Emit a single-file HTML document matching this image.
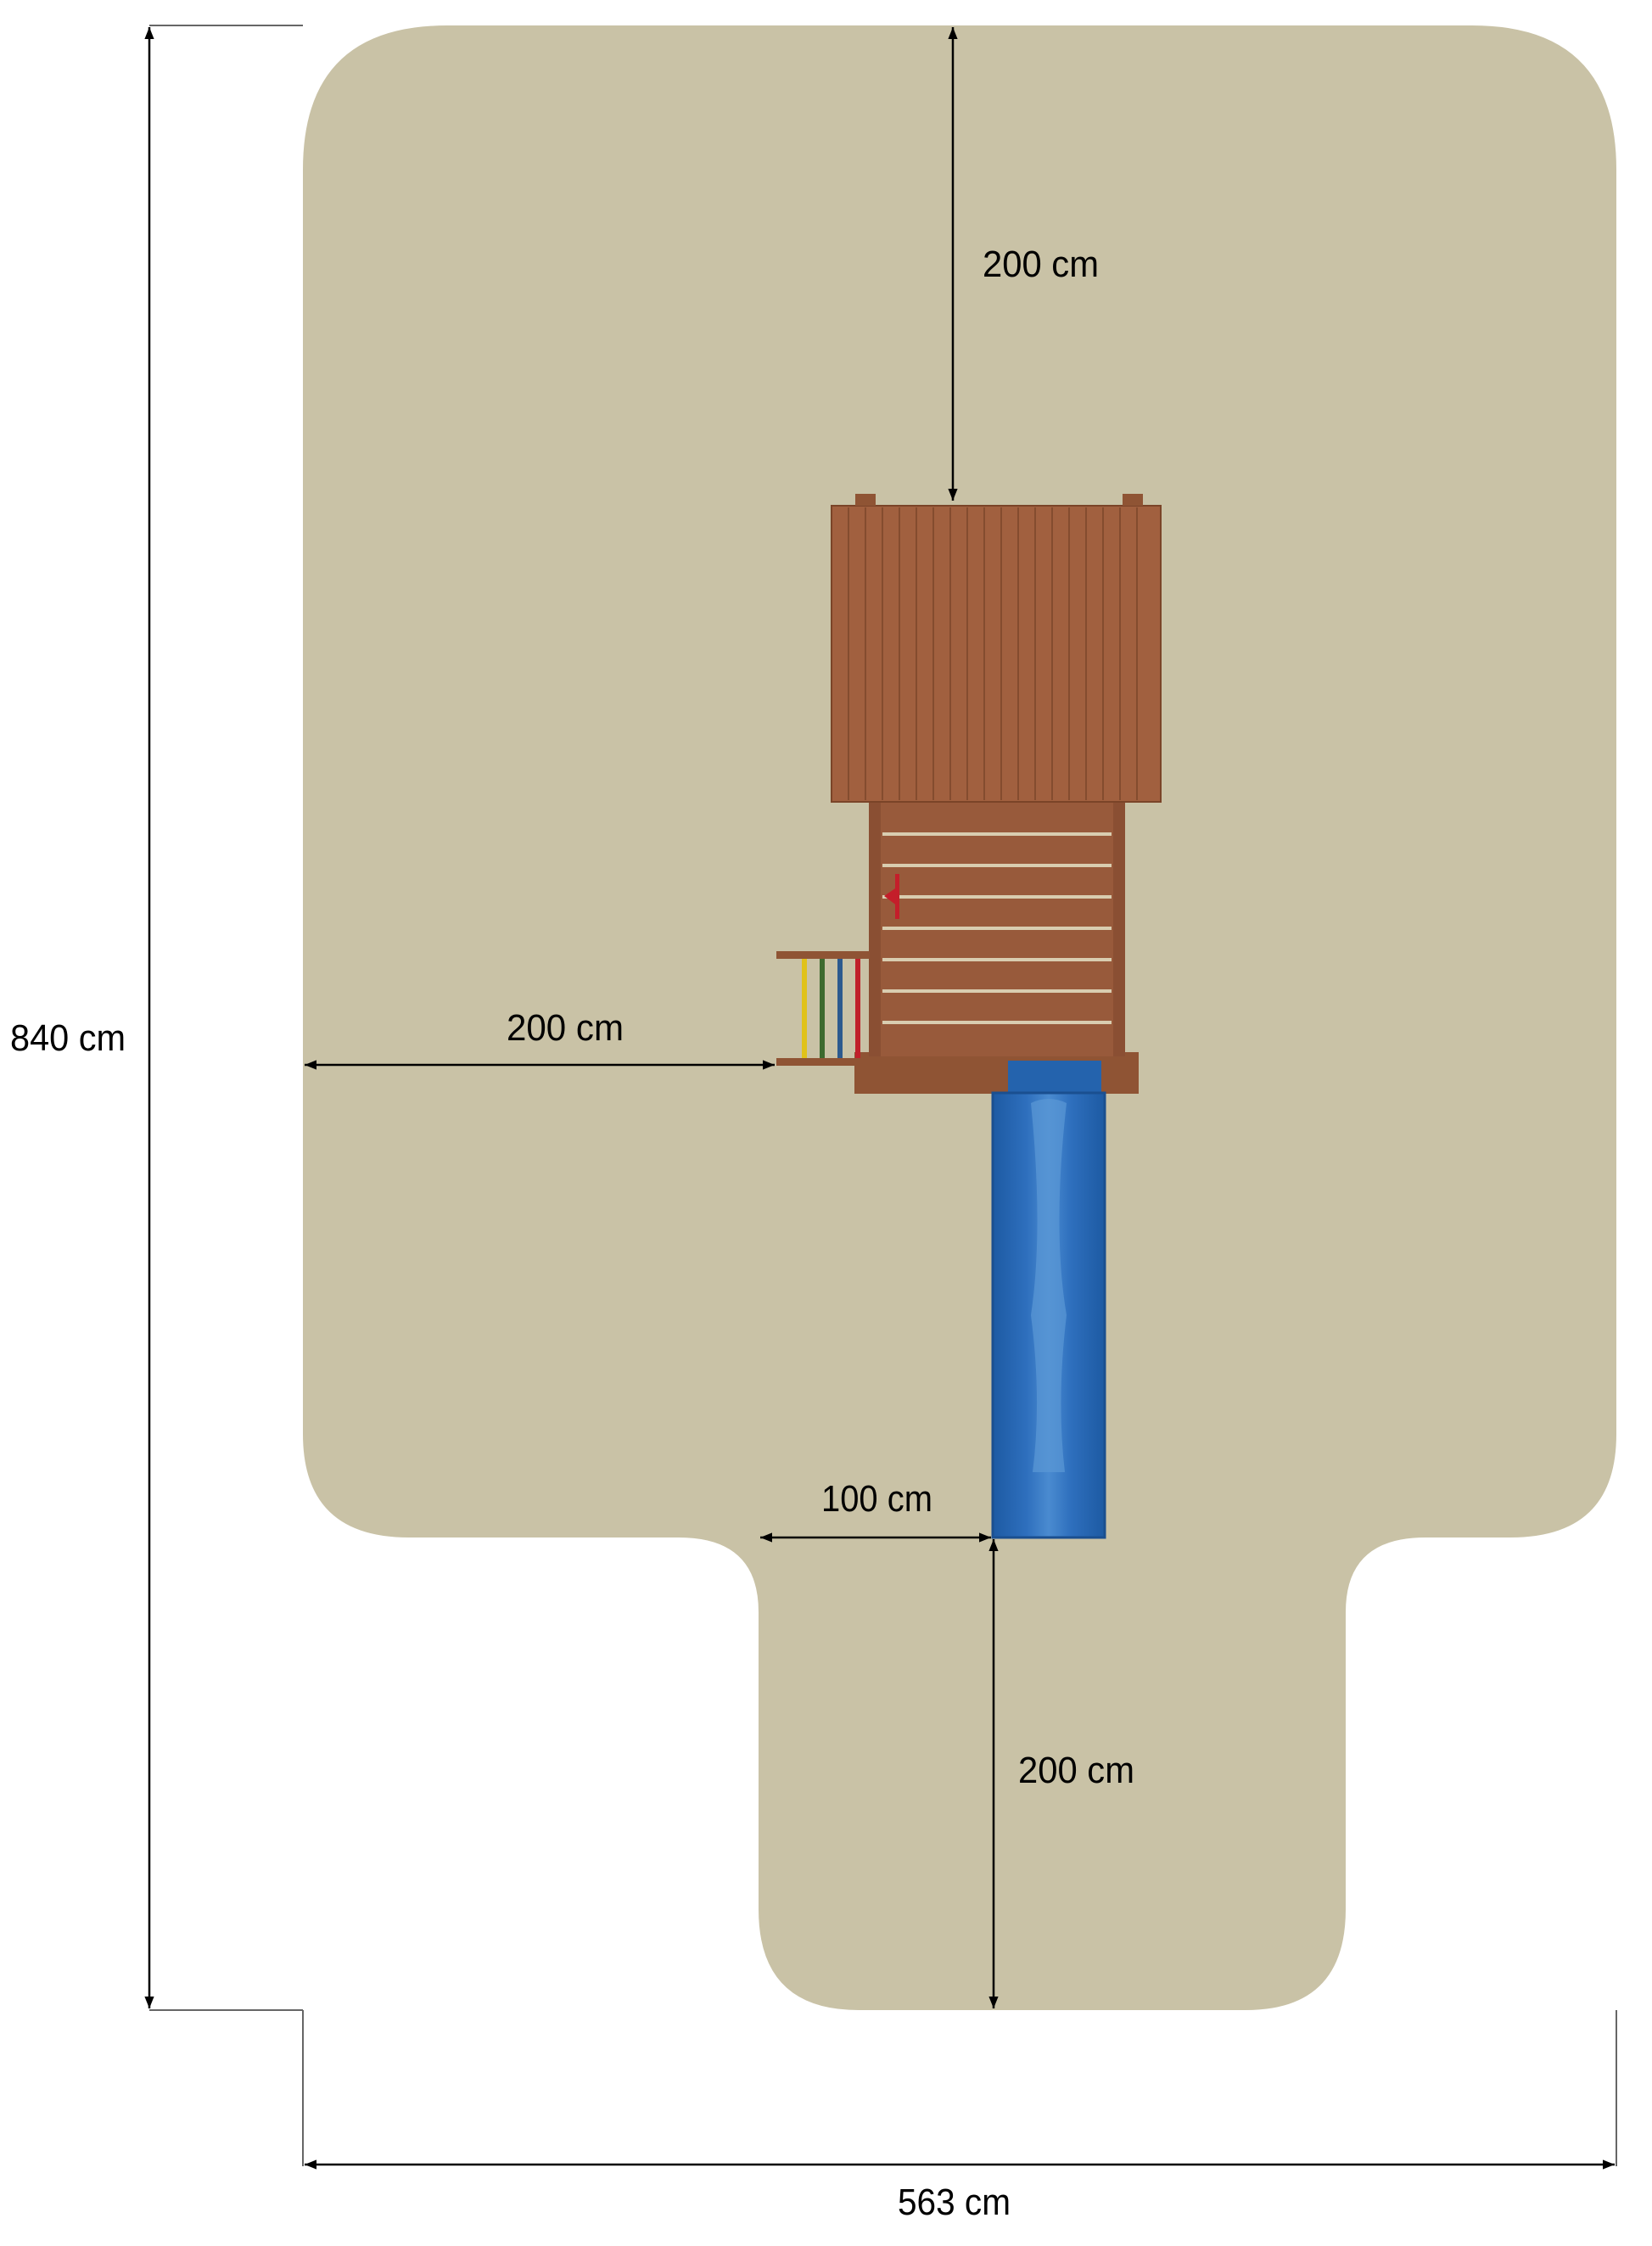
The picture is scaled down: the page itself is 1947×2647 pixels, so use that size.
<!DOCTYPE html>
<html><head><meta charset="utf-8"><style>html,body{margin:0;padding:0;background:#fff}svg{display:block}</style></head>
<body>
<svg width="1947" height="2647" viewBox="0 0 1947 2647" xmlns="http://www.w3.org/2000/svg">
<defs>
<marker id="a" viewBox="0 0 10 10" refX="10" refY="5" markerWidth="14" markerHeight="14" markerUnits="userSpaceOnUse" orient="auto-start-reverse"><path d="M0,1 L10,5 L0,9 Z" fill="#000"/></marker>
<linearGradient id="sl" x1="0" x2="1"><stop offset="0" stop-color="#1d5aa3"/><stop offset="0.3" stop-color="#2e6fbd"/><stop offset="0.5" stop-color="#4a8bd0"/><stop offset="0.7" stop-color="#2e6fbd"/><stop offset="1" stop-color="#1d5aa3"/></linearGradient>
</defs>
<path d="M527,30 H1735 Q1905,30 1905,200 V1690 Q1905,1812 1780,1812 H1680 Q1586,1812 1586,1900 V2250 Q1586,2369 1468,2369 H1012 Q894,2369 894,2250 V1900 Q894,1812 800,1812 H482 Q357,1812 357,1690 V200 Q357,30 527,30 Z" fill="#c9c2a6"/>
<!-- frame lines -->
<g stroke="#000" stroke-width="2.5" fill="none">
<line x1="176" y1="32" x2="176" y2="2367" marker-start="url(#a)" marker-end="url(#a)"/>
<line x1="1123" y1="32" x2="1123" y2="590" marker-start="url(#a)" marker-end="url(#a)"/>
<line x1="359" y1="1255" x2="913" y2="1255" marker-start="url(#a)" marker-end="url(#a)"/>
<line x1="896" y1="1812" x2="1168" y2="1812" marker-start="url(#a)" marker-end="url(#a)"/>
<line x1="1171" y1="1814" x2="1171" y2="2367" marker-start="url(#a)" marker-end="url(#a)"/>
<line x1="359" y1="2551" x2="1903" y2="2551" marker-start="url(#a)" marker-end="url(#a)"/>
</g>
<g stroke="#666" stroke-width="2" fill="none">
<line x1="176" y1="30" x2="357" y2="30"/>
<line x1="176" y1="2369" x2="357" y2="2369"/>
<line x1="357" y1="2369" x2="357" y2="2553"/>
<line x1="1905" y1="2369" x2="1905" y2="2553"/>
</g>
<!-- deck frame -->
<rect x="1007" y="1240" width="335" height="49" fill="#8f5434"/>
<rect x="1024" y="945" width="302" height="300" fill="#985a3b"/>
<g fill="#d9cdb0">
<rect x="1040" y="981" width="270" height="4"/><rect x="1040" y="1018" width="270" height="4"/>
<rect x="1040" y="1055" width="270" height="4"/><rect x="1040" y="1092" width="270" height="4"/>
<rect x="1040" y="1129" width="270" height="4"/><rect x="1040" y="1166" width="270" height="4"/>
<rect x="1040" y="1203" width="270" height="4"/>
</g>
<rect x="1024" y="945" width="14" height="300" fill="#8a4f33"/>
<rect x="1312" y="945" width="14" height="300" fill="#8a4f33"/>
<!-- ladder -->
<rect x="915" y="1121" width="110" height="9" fill="#8f5434"/>
<rect x="915" y="1247" width="110" height="9" fill="#8f5434"/>
<rect x="945" y="1130" width="6" height="117" fill="#e0c21a"/>
<rect x="966" y="1130" width="6" height="117" fill="#3d6a2e"/>
<rect x="987" y="1130" width="6" height="117" fill="#2c5a8e"/>
<rect x="1008" y="1130" width="6" height="117" fill="#c0202a"/>
<!-- steering wheel -->
<path d="M1055,1030 L1060,1030 L1060,1083 L1055,1083 Z M1042,1056 L1058,1045 L1058,1068 Z" fill="#c41e2a"/>
<!-- slide -->
<rect x="1188" y="1250" width="110" height="40" fill="#2463ad"/>
<rect x="1170" y="1288" width="132" height="524" fill="url(#sl)" stroke="#1a4f90" stroke-width="3"/>
<path d="M1215,1300 Q1236,1290 1257,1300 Q1240,1450 1257,1550 Q1245,1650 1255,1735 L1217,1735 Q1228,1650 1215,1550 Q1230,1450 1215,1300 Z" fill="#5b98d6" opacity="0.7"/>
<!-- roof -->
<rect x="980" y="596" width="388" height="349" fill="#a1603f"/>
<g stroke="#6a3a22" stroke-width="1.5" opacity="0.7">
<line x1="1000" y1="598" x2="1000" y2="943"/><line x1="1020" y1="598" x2="1020" y2="943"/>
<line x1="1040" y1="598" x2="1040" y2="943"/><line x1="1060" y1="598" x2="1060" y2="943"/>
<line x1="1080" y1="598" x2="1080" y2="943"/><line x1="1100" y1="598" x2="1100" y2="943"/>
<line x1="1120" y1="598" x2="1120" y2="943"/><line x1="1140" y1="598" x2="1140" y2="943"/>
<line x1="1160" y1="598" x2="1160" y2="943"/><line x1="1180" y1="598" x2="1180" y2="943"/>
<line x1="1200" y1="598" x2="1200" y2="943"/><line x1="1220" y1="598" x2="1220" y2="943"/>
<line x1="1240" y1="598" x2="1240" y2="943"/><line x1="1260" y1="598" x2="1260" y2="943"/>
<line x1="1280" y1="598" x2="1280" y2="943"/><line x1="1300" y1="598" x2="1300" y2="943"/>
<line x1="1320" y1="598" x2="1320" y2="943"/><line x1="1340" y1="598" x2="1340" y2="943"/>
</g>
<rect x="980" y="596" width="388" height="349" fill="none" stroke="#7a4428" stroke-width="2"/>
<rect x="1008" y="582" width="24" height="14" fill="#8f5434"/><rect x="1323" y="582" width="24" height="14" fill="#8f5434"/>
<!-- labels -->
<g font-family="'Liberation Sans Narrow','Liberation Sans',sans-serif" font-size="44" fill="#000">
<text x="1158" y="326" textLength="137" lengthAdjust="spacingAndGlyphs">200 cm</text>
<text x="12" y="1238" textLength="136" lengthAdjust="spacingAndGlyphs">840 cm</text>
<text x="597" y="1226" textLength="138" lengthAdjust="spacingAndGlyphs">200 cm</text>
<text x="968" y="1781" textLength="131" lengthAdjust="spacingAndGlyphs">100 cm</text>
<text x="1200" y="2101" textLength="137" lengthAdjust="spacingAndGlyphs">200 cm</text>
<text x="1058" y="2610" textLength="133" lengthAdjust="spacingAndGlyphs">563 cm</text>
</g>
</svg>
</body></html>
